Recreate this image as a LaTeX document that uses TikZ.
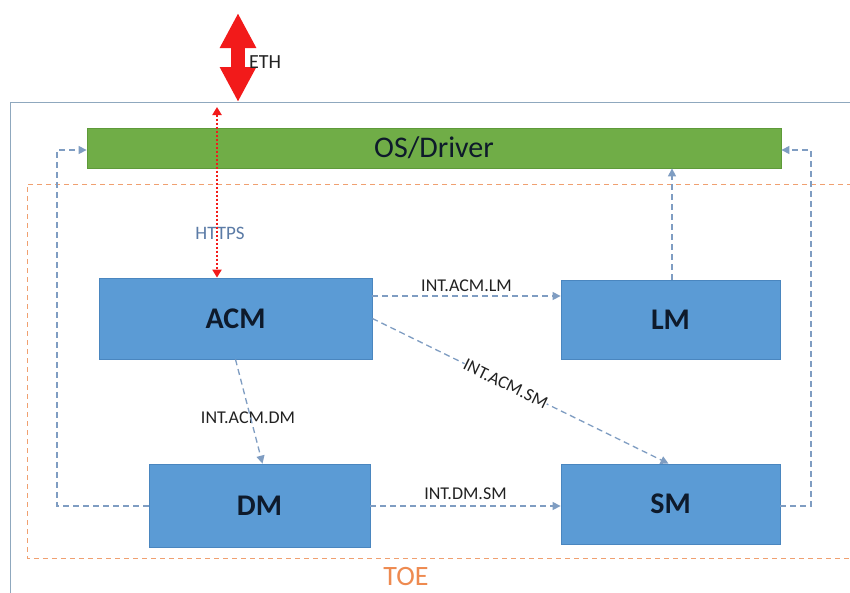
\documentclass[tikz,border=0pt]{standalone}
\usepackage{fontspec}
\setmainfont{Carlito}
\usetikzlibrary{arrows.meta}
\definecolor{boxblue}{HTML}{5B9BD5}
\definecolor{boxblueedge}{HTML}{4A86BF}
\definecolor{osgreen}{HTML}{70AD47}
\definecolor{osgreenedge}{HTML}{5E9A3A}
\definecolor{linkblue}{HTML}{7F9DC2}
\definecolor{frame}{HTML}{8FA8BE}
\definecolor{toeorange}{HTML}{F0A070}
\definecolor{toetext}{HTML}{EE8A50}
\definecolor{ethred}{HTML}{F21A1A}
\definecolor{labeltext}{HTML}{222222}
\definecolor{httpstext}{HTML}{5B7BA6}
\definecolor{boxtext}{HTML}{0E1A2B}
\tikzset{
  module/.style={draw=boxblueedge, line width=0.8pt, fill=boxblue, minimum width=#1, inner sep=0pt,
    font=\fontsize{30}{32}\selectfont\bfseries, text=boxtext},
  link/.style={draw=linkblue, line width=1.3pt, dash pattern=on 6pt off 4pt,
    -{Triangle[length=8pt,width=8pt]}},
  linklabel/.style={font=\fontsize{18}{20}\selectfont, text=labeltext, inner sep=1pt},
}
\begin{document}
\begin{tikzpicture}[x=1pt,y=-1pt]
\useasboundingbox (0,0) rectangle (850,592);
\clip (0,0) rectangle (850,592);
\fill[white] (0,0) rectangle (850,592);
% outer frame
\draw[frame, line width=1pt] (10,102) -- (870,102);
\draw[frame, line width=1pt] (10,102) -- (10,610);
% TOE dashed frame
\draw[toeorange, line width=1pt, dash pattern=on 5pt off 4pt] (870,184) -- (27,184) -- (27,558) -- (870,558);
\node[font=\fontsize{28}{30}\selectfont, text=toetext, inner sep=0pt] (toe) at (406,576) {TOE};
% OS/Driver
\node[draw=osgreenedge, line width=0.8pt, fill=osgreen, minimum width=694pt, minimum height=40pt, inner sep=0pt,
  font=\fontsize{30}{32}\selectfont, text=boxtext] (os) at (434,148) {OS/Driver};
% modules
\node[module=273pt, minimum height=81pt] (acm) at (235.5,318.5) {ACM};
\node[module=219pt, minimum height=79pt] (lm) at (670.5,319.5) {LM};
\node[module=221pt, minimum height=83pt] (dm) at (259.5,505.5) {DM};
\node[module=219pt, minimum height=80pt] (sm) at (670.5,504) {SM};
% labels that lie under lines
\node[font=\fontsize{19}{20}\selectfont, text=httpstext, inner sep=0pt] (httpslbl) at (220,233) {HTTPS};
\node[linklabel] (acmdmlbl) at (248,418) {INT.ACM.DM};
% ETH arrow
\coordinate (ethtop) at (238,13);
\coordinate (ethbot) at (238,102);
\draw[ethred, line width=14pt, {Triangle[length=35pt,width=34pt]}-{Triangle[length=35pt,width=34pt]}] (ethtop) -- (ethbot);
\node[font=\fontsize{20}{22}\selectfont, text=labeltext, inner sep=0pt, anchor=west] (eth) at (249,62) {ETH};
% HTTPS arrow
\coordinate (httpstop) at (217,107);
\draw[ethred, line width=2pt, dash pattern=on 2pt off 2pt,
  {Triangle[length=8pt,width=9pt]}-{Triangle[length=8pt,width=9pt]}] (httpstop) -- (httpstop |- acm.north);
% internal links
\draw[link] ([yshift=22.5pt]acm.east) -- ([yshift=23.5pt]lm.west)
  node[midway, above=3pt, linklabel] (acmlmlbl) {INT.ACM.LM};
\draw[link] (acm.east) -- ([xshift=-2pt]sm.north)
  node[pos=0.45, sloped, fill=white, linklabel, inner sep=0pt] (acmsmlbl) {INT.ACM.SM};
\draw[link] (acm.south) -- ([xshift=3pt]dm.north);
\draw[link] ([yshift=-0.5pt]dm.east) -- ([yshift=-2pt]sm.west)
  node[midway, above=5pt, linklabel] (dmsmlbl) {INT.DM.SM};
\draw[link] (lm.north -| 672,0) -- (os.south -| 672,0);
\draw[link] ([yshift=-0.5pt]dm.west) -- (57,506) -- (57,150) -- (os.west |- 0,150);
\draw[link] ([yshift=-2pt]sm.east) -- (811,506) -- (811,150) -- (os.east |- 0,150);
\end{tikzpicture}
\end{document}
